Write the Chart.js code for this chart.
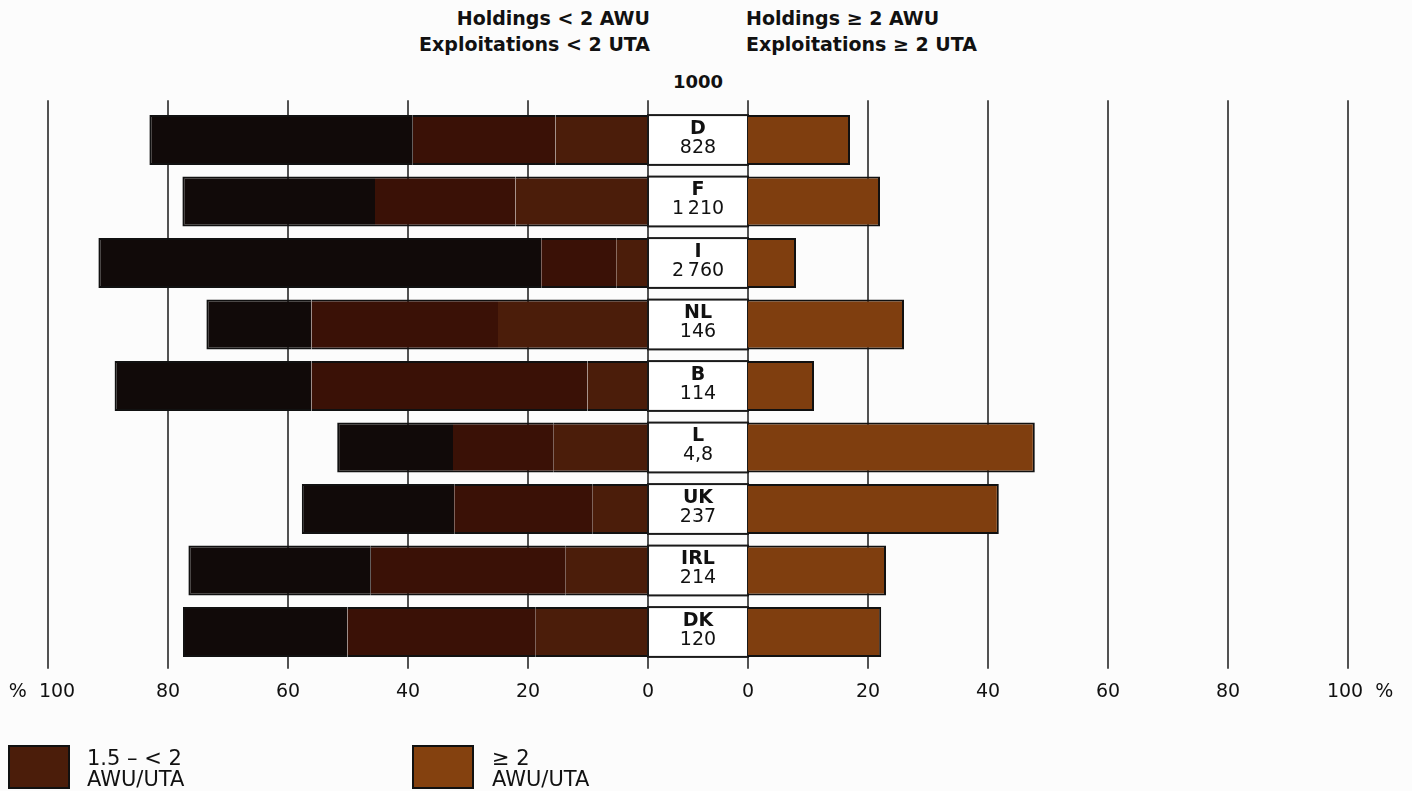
<!DOCTYPE html>
<html>
<head>
<meta charset="utf-8">
<script src="https://cdn.jsdelivr.net/npm/chart.js@4.4.0/dist/chart.umd.min.js"></script>
<style>
  html, body { margin: 0; padding: 0; background: #fcfcfc; }
  body { width: 1412px; height: 791px; position: relative; overflow: hidden;
         font-family: "DejaVu Sans", sans-serif; color: #111; }
  canvas { position: absolute; left: 0; top: 0; }
  .title { position: absolute; top: 5px; font-weight: bold; font-size: 19px; line-height: 26px; white-space: nowrap; }
  .swatch { position: absolute; top: 745px; width: 62px; height: 44px; box-sizing: border-box; border: 2px solid #111; }
  .ltext { position: absolute; top: 748px; font-size: 21px; line-height: 21px; white-space: nowrap; }
</style>
</head>
<body>
<div class="title" style="right:762px;text-align:right">Holdings &lt; 2 AWU<br>Exploitations &lt; 2 UTA</div>
<div class="title" style="left:746px">Holdings ≥ 2 AWU<br>Exploitations ≥ 2 UTA</div>
<div class="title" style="left:648px;width:100px;top:71px;line-height:22px;text-align:center;font-size:18px">1000</div>

<canvas id="left" width="1412" height="791"></canvas>
<canvas id="right" width="1412" height="791"></canvas>

<div class="swatch" style="left:8px;background:#4b1d0a"></div>
<div class="ltext" style="left:87px">1.5 – &lt; 2<br>AWU/UTA</div>
<div class="swatch" style="left:412px;background:#84410f"></div>
<div class="ltext" style="left:492px">≥ 2<br>AWU/UTA</div>

<script>
// share of holdings by labour input, % of all holdings in the country
const countries = ['D', 'F', 'I', 'NL', 'B', 'L', 'UK', 'IRL', 'DK'];
const holdings = ['828', '1\u2009210', '2\u2009760', '146', '114', '4,8', '237', '214', '120']; // in 1000
const under1 = [43.9, 32.1, 73.8, 17.5, 32.8, 19.3, 25.4, 30.4, 27.4];
const from1to15 = [23.8, 23.4, 12.5, 31.1, 46.0, 16.8, 23.1, 32.5, 31.4];
const from15to2 = [15.4, 22.1, 5.3, 25.0, 10.1, 15.7, 9.2, 13.7, 18.7];
const over2 = [17.0, 22.0, 8.0, 26.0, 11.0, 47.8, 41.8, 23.0, 22.2];
const tickValues = [0, 20, 40, 60, 80, 100];

Chart.defaults.font.family = '"DejaVu Sans", sans-serif';
Chart.defaults.color = '#111';

const lineColor = '#1a1a1a';

// vertical rules, drawn behind the bars and a little past the plot area
const ruleLines = {
    id: 'ruleLines',
    beforeDatasetsDraw(chart) {
        const { ctx, chartArea, scales: { x } } = chart;
        ctx.save();
        ctx.strokeStyle = lineColor;
        ctx.lineWidth = 1.5;
        x.ticks.forEach(t => {
            const px = x.getPixelForValue(t.value);
            ctx.beginPath();
            ctx.moveTo(px, chartArea.top - 9);
            ctx.lineTo(px, chartArea.bottom + 6);
            ctx.stroke();
        });
        ctx.restore();
    }
};

// white boxes with country code and number of holdings
const centreBoxes = {
    id: 'centreBoxes',
    afterDatasetsDraw(chart) {
        const { ctx, chartArea, scales: { x } } = chart;
        const x0 = x.getPixelForValue(0);
        const x1 = chartArea.right;
        const mid = (x0 + x1) / 2;
        ctx.save();
        chart.getDatasetMeta(0).data.forEach((bar, i) => {
            const top = bar.y - bar.height / 2;
            ctx.fillStyle = '#fff';
            ctx.fillRect(x0, top, x1 - x0, bar.height);
            ctx.strokeStyle = lineColor;
            ctx.lineWidth = 2;
            ctx.strokeRect(x0, top, x1 - x0, bar.height);
            ctx.fillStyle = '#111';
            ctx.textAlign = 'center';
            ctx.textBaseline = 'middle';
            ctx.font = 'bold 19px "DejaVu Sans"';
            ctx.fillText(countries[i], mid, bar.y - 11);
            ctx.font = '19px "DejaVu Sans"';
            ctx.fillText(holdings[i], mid, bar.y + 8);
        });
        ctx.restore();
    }
};

function xAxis(min, reverse, label) {
    return {
        min: min, max: 100, reverse: reverse, stacked: true,
        grid: { display: false, drawTicks: false },
        border: { display: false },
        afterBuildTicks: s => { s.ticks = tickValues.map(v => ({ value: v })); },
        afterFit: s => { s.height = 40; },
        ticks: {
            padding: 18, autoSkip: false, maxRotation: 0,
            font: { size: 19 },
            callback: label
        }
    };
}

const yAxis = { stacked: true, display: false };
const barSize = { barPercentage: 0.81, categoryPercentage: 1, borderColor: '#111', borderSkipped: false };

new Chart(document.getElementById('left'), {
    type: 'bar',
    data: {
        labels: countries,
        datasets: [
            { label: '1.5 – < 2 AWU/UTA', data: from15to2, backgroundColor: '#4b1d0a',
              borderWidth: { top: 2, bottom: 2, left: 0, right: 0 }, ...barSize },
            { label: '1 – < 1.5 AWU/UTA', data: from1to15, backgroundColor: '#3a1106',
              borderWidth: { top: 2, bottom: 2, left: 0, right: 0 }, ...barSize },
            { label: '< 1 AWU/UTA', data: under1, backgroundColor: '#110a09',
              borderWidth: { top: 2, bottom: 2, left: 2, right: 0 }, ...barSize }
        ]
    },
    options: {
        indexAxis: 'y',
        responsive: false,
        animation: false,
        layout: { padding: { left: 48, right: 664, top: 109.25, bottom: 88.25 } },
        plugins: { legend: { display: false }, tooltip: { enabled: false } },
        scales: {
            x: xAxis(-50 / 3, true, v => v === 100 ? '%\u00a0 100\u00a0\u00a0' : String(v)),
            y: yAxis
        }
    },
    plugins: [ruleLines, centreBoxes]
});

new Chart(document.getElementById('right'), {
    type: 'bar',
    data: {
        labels: countries,
        datasets: [
            { label: '≥ 2 AWU/UTA', data: over2, backgroundColor: '#7f3e0f',
              borderWidth: { top: 2, bottom: 2, left: 0, right: 2 }, ...barSize }
        ]
    },
    options: {
        indexAxis: 'y',
        responsive: false,
        animation: false,
        layout: { padding: { left: 748, right: 64, top: 109.25, bottom: 88.25 } },
        plugins: { legend: { display: false }, tooltip: { enabled: false } },
        scales: {
            x: xAxis(0, false, v => v === 100 ? '\u00a0\u00a0\u00a0\u00a0100 \u00a0%' : String(v)),
            y: yAxis
        }
    },
    plugins: [ruleLines]
});
</script>
</body>
</html>
